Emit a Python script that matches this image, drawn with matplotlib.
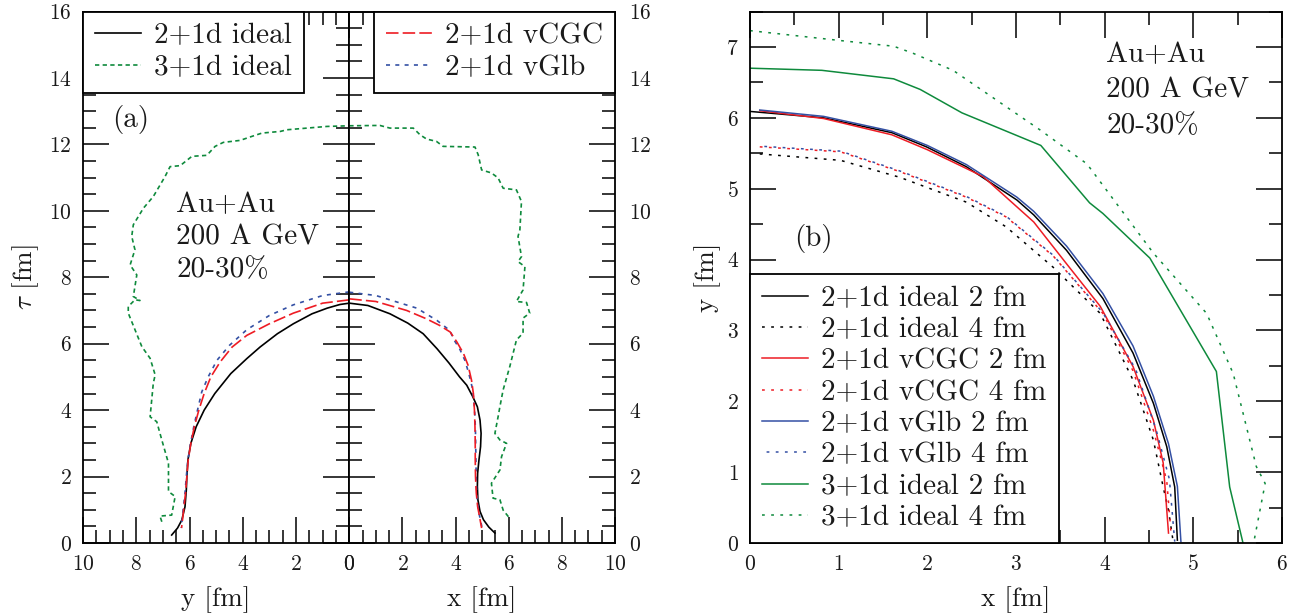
import numpy as np
import matplotlib
matplotlib.use("Agg")
import matplotlib.pyplot as plt
from matplotlib.ticker import MultipleLocator

plt.rcParams['font.family'] = ['cmr10', 'DejaVu Serif']
plt.rcParams['mathtext.fontset'] = 'cm'
plt.rcParams['axes.formatter.use_mathtext'] = True
plt.rcParams['lines.scale_dashes'] = False

# ---------------- panel (a): freeze-out surfaces tau vs y (left) and x (right)
# 2+1d ideal
ideal_y = [6.67, 6.45, 6.29, 6.17, 6.12, 6.10, 6.06, 5.95, 5.75, 5.45, 5.05, 4.45, 3.85, 3.35, 2.70, 2.10, 1.40, 0.83, 0.35, 0.0]
ideal_y_tau = [0.24, 0.45, 0.69, 1.09, 1.60, 2.00, 2.50, 3.00, 3.50, 4.00, 4.50, 5.10, 5.55, 5.90, 6.30, 6.60, 6.90, 7.07, 7.18, 7.22]
ideal_x = [0.0, 0.70, 1.53, 2.20, 2.78, 3.30, 3.75, 4.15, 4.42, 4.65, 4.82, 4.92, 4.96, 4.94, 4.88, 4.83, 4.82, 4.84, 4.92, 5.05, 5.25, 5.48]
ideal_x_tau = [7.22, 7.15, 6.90, 6.62, 6.30, 5.85, 5.42, 5.00, 4.75, 4.40, 4.10, 3.70, 3.30, 2.90, 2.50, 2.10, 1.70, 1.30, 0.95, 0.70, 0.48, 0.30]

# 2+1d vCGC
vcgc_y = [0.0, 1.0, 2.10, 3.00, 3.85, 4.40, 4.85, 5.20, 5.45, 5.65, 5.82, 5.95, 6.05, 6.10, 6.15, 6.22, 6.30]
vcgc_y_tau = [7.32, 7.22, 6.92, 6.60, 6.25, 5.90, 5.45, 5.00, 4.50, 4.00, 3.50, 3.00, 2.50, 2.00, 1.50, 1.00, 0.45]
vcgc_x = [0.0, 1.0, 2.16, 2.90, 3.40, 3.80, 4.05, 4.30, 4.47, 4.60, 4.67, 4.71, 4.73, 4.74, 4.74, 4.75, 4.78, 4.83, 4.90, 4.98]
vcgc_x_tau = [7.35, 7.27, 7.00, 6.75, 6.55, 6.35, 6.05, 5.70, 5.35, 4.90, 4.50, 4.00, 3.50, 3.00, 2.50, 2.00, 1.50, 1.10, 0.80, 0.45]

# 2+1d vGlb
vglb_y = [0.0, 1.0, 2.10, 3.00, 3.85, 4.50, 4.97, 5.30, 5.54, 5.70, 5.84, 5.96, 6.06, 6.12, 6.17, 6.24, 6.31]
vglb_y_tau = [7.56, 7.45, 7.17, 6.85, 6.42, 5.95, 5.50, 5.00, 4.55, 4.00, 3.50, 3.00, 2.50, 2.00, 1.50, 1.00, 0.45]
vglb_x = [0.0, 1.0, 2.54, 3.30, 3.78, 3.95, 4.15, 4.35, 4.50, 4.62, 4.69, 4.73, 4.75, 4.76, 4.77, 4.78, 4.81, 4.88, 5.00]
vglb_x_tau = [7.55, 7.45, 7.07, 6.70, 6.40, 6.10, 5.85, 5.50, 5.10, 4.70, 4.30, 3.80, 3.30, 2.80, 2.30, 1.80, 1.30, 0.90, 0.45]

# 3+1d ideal
ideal3d_y = [7.04, 7.11, 6.67, 6.54, 6.79, 6.79, 7.04, 7.23, 7.48, 7.36, 7.29, 7.48, 7.79, 8.30, 8.30, 8.05, 7.86, 8.11, 7.98,
             8.23, 8.05, 8.17, 8.11, 7.73, 7.36, 6.92, 6.73, 6.35, 5.91, 5.35, 5.04, 4.73, 4.10, 3.66, 3.28, 2.59, 2.34,
             1.59, 0.84, 0.0]
ideal3d_y_tau = [0.64, 0.81, 0.84, 1.40, 1.55, 2.40, 3.10, 3.65, 3.80, 4.81, 5.06, 5.56, 5.91, 6.92, 7.12, 7.32, 7.30, 7.42,
                 8.07, 8.37, 8.83, 9.23, 9.58, 10.08, 10.43, 11.03, 11.33, 11.36, 11.64, 11.67, 11.94, 12.06, 12.12,
                 12.24, 12.34, 12.39, 12.44, 12.49, 12.54, 12.56]
ideal3d_x = [0.0, 1.15, 1.53, 2.41, 2.66, 2.91, 3.28, 3.53, 4.73, 4.85, 4.98, 5.35, 5.60, 5.79, 6.29, 6.48, 6.42, 6.35,
             6.48, 6.35, 6.61, 6.54, 6.29, 6.67, 6.79, 6.54, 6.54, 6.29, 6.04, 5.79, 5.67, 5.60, 5.48, 5.67, 5.92,
             5.73, 5.67, 5.35, 5.41, 5.67, 5.79, 6.04]
ideal3d_x_tau = [12.56, 12.57, 12.49, 12.49, 12.29, 12.16, 12.09, 11.94, 11.92, 11.69, 11.23, 11.14, 10.99, 10.68,
                 10.63, 10.28, 9.43, 9.23, 8.62, 8.47, 8.32, 7.62, 7.27, 7.24, 6.92, 6.77, 6.32, 6.11, 5.31, 4.61,
                 4.11, 3.80, 3.30, 3.10, 3.00, 2.60, 2.20, 1.80, 1.35, 1.30, 0.99, 0.74]

# ---------------- panel (b): isotherms in the transverse plane at tau = 2 and 4 fm
b_ideal2_x = [0.0, 0.83, 1.60, 1.99, 2.44, 3.01, 3.20, 3.57, 3.98, 4.32, 4.55, 4.70, 4.79, 4.82]
b_ideal2_y = [6.09, 6.00, 5.79, 5.59, 5.31, 4.84, 4.63, 4.13, 3.45, 2.68, 1.97, 1.36, 0.79, 0.04]
b_ideal4_x = [0.11, 1.02, 1.69, 2.44, 2.89, 3.42, 3.95, 4.32, 4.55, 4.66, 4.72, 4.77]
b_ideal4_y = [5.49, 5.40, 5.16, 4.81, 4.46, 3.89, 3.24, 2.30, 1.45, 0.79, 0.46, 0.04]
b_vcgc2_x = [0.11, 0.83, 1.60, 2.00, 2.63, 3.20, 3.57, 3.95, 4.32, 4.55, 4.66, 4.72]
b_vcgc2_y = [6.10, 5.99, 5.76, 5.55, 5.17, 4.53, 3.94, 3.34, 2.49, 1.73, 1.13, 0.14]
b_vcgc4_x = [0.11, 1.02, 1.69, 2.44, 2.89, 3.42, 3.98, 4.32, 4.55, 4.70, 4.75]
b_vcgc4_y = [5.59, 5.52, 5.24, 4.88, 4.60, 4.05, 3.24, 2.43, 1.59, 0.88, 0.12]
b_vglb2_x = [0.11, 0.83, 1.60, 2.00, 2.44, 3.01, 3.20, 3.57, 3.98, 4.32, 4.55, 4.72, 4.82, 4.86]
b_vglb2_y = [6.11, 6.02, 5.81, 5.61, 5.34, 4.88, 4.68, 4.19, 3.52, 2.78, 2.07, 1.40, 0.80, 0.02]
b_vglb4_x = [0.11, 1.02, 1.69, 2.44, 2.89, 3.42, 3.98, 4.35, 4.58, 4.73, 4.79]
b_vglb4_y = [5.60, 5.53, 5.25, 4.89, 4.61, 4.06, 3.25, 2.45, 1.60, 0.90, 0.02]
b_3d2_x = [0.0, 0.81, 1.62, 1.92, 2.39, 3.28, 3.83, 3.98, 4.51, 5.26, 5.41, 5.56]
b_3d2_y = [6.70, 6.67, 6.55, 6.40, 6.07, 5.61, 4.80, 4.65, 4.02, 2.42, 0.79, 0.0]
b_3d4_x = [0.0, 1.02, 1.62, 1.84, 2.29, 3.27, 3.80, 4.55, 5.15, 5.45, 5.71, 5.81, 5.68]
b_3d4_y = [7.23, 7.09, 7.01, 6.91, 6.67, 5.83, 5.35, 4.09, 3.24, 2.39, 1.08, 0.84, 0.0]

a_labels = ['2+1d ideal', '3+1d ideal', '2+1d vCGC', '2+1d vGlb']
b_labels = ['2+1d ideal 2 fm', '2+1d ideal 4 fm', '2+1d vCGC 2 fm', '2+1d vCGC 4 fm',
            '2+1d vGlb 2 fm', '2+1d vGlb 4 fm', '3+1d ideal 2 fm', '3+1d ideal 4 fm']
info_text = ['Au+Au', '200 A GeV', '20-30%']

BLACK = '#000000'
RED = '#ee1c24'
BLUE = '#3450a4'
GREEN = '#0e8a3c'
TXT = '#1a1a1a'

FS_TEXT = 21
FS_TICK = 15.5
FS_LABEL = 19.5

fig = plt.figure(figsize=(13.01, 6.15), dpi=100)

W, H = 1301.0, 615.0
bot = 1 - 543 / H
top = 1 - 11.5 / H
axL = fig.add_axes([83 / W, bot, (349.3 - 83) / W, top - bot])
axR = fig.add_axes([349.3 / W, bot, (615 - 349.3) / W, top - bot])
axB = fig.add_axes([750 / W, bot, (1282 - 750) / W, top - bot])


def style(ax, xmaj, xmin, ymaj, ymin):
    ax.xaxis.set_major_locator(MultipleLocator(xmaj))
    ax.xaxis.set_minor_locator(MultipleLocator(xmin))
    ax.yaxis.set_major_locator(MultipleLocator(ymaj))
    ax.yaxis.set_minor_locator(MultipleLocator(ymin))
    ax.tick_params(which='both', direction='in', top=True, bottom=True, left=True, right=True,
                   width=1.1, color='black', labelsize=FS_TICK, labelcolor=TXT)
    ax.tick_params(which='major', length=19)
    ax.tick_params(which='minor', length=9.5)
    ax.tick_params(axis='x', pad=8)
    ax.tick_params(axis='y', pad=8)
    for s in ax.spines.values():
        s.set_linewidth(1.3)


LW_A = 1.2
dash_red = (0, (9.0, 3.0))
dot_blue = (0, (2.9, 3.8))
dot_green = (0, (3.1, 2.4))

for ax in (axL, axR):
    style(ax, 2, 0.5, 2, 0.5)
    ax.set_ylim(0, 16)

axL.set_xlim(10, 0)
axR.set_xlim(0, 10)
axL.tick_params(labelleft=True, labelright=False)
axR.tick_params(labelleft=False, labelright=True)
axR.tick_params(axis='y', pad=10)

# left half (y direction)
hA1, = axL.plot(ideal_y, ideal_y_tau, color=BLACK, lw=LW_A)
hA2, = axL.plot(ideal3d_y, ideal3d_y_tau, color=GREEN, lw=LW_A, linestyle=dot_green)
axL.plot(vglb_y, vglb_y_tau, color=BLUE, lw=LW_A, linestyle=dot_blue)
axL.plot(vcgc_y, vcgc_y_tau, color=RED, lw=LW_A, linestyle=dash_red)
# right half (x direction)
axR.plot(ideal_x, ideal_x_tau, color=BLACK, lw=LW_A)
axR.plot(ideal3d_x, ideal3d_x_tau, color=GREEN, lw=LW_A, linestyle=dot_green)
hA4, = axR.plot(vglb_x, vglb_x_tau, color=BLUE, lw=LW_A, linestyle=dot_blue)
hA3, = axR.plot(vcgc_x, vcgc_x_tau, color=RED, lw=LW_A, linestyle=dash_red)

leg_kw = dict(fontsize=FS_TEXT, fancybox=False, edgecolor='black', framealpha=1.0,
              borderaxespad=0.0, handlelength=1.6, handletextpad=0.45,
              labelspacing=0.17, borderpad=0.4, labelcolor=TXT)
legL = axL.legend([hA1, hA2], a_labels[:2], loc='upper left', **leg_kw)
legR = axR.legend([hA3, hA4], a_labels[2:], loc='upper right', **leg_kw)
for lg in (legL, legR):
    lg.get_frame().set_linewidth(1.3)

axL.text(8.9, 12.75, '(a)', fontsize=FS_TEXT, va='center', ha='left', color=TXT)
for i, line in enumerate(info_text):
    axL.text(6.5, 9.97 - i * 0.98, line, fontsize=FS_TEXT, va='baseline', ha='left', color=TXT)

axL.set_xlabel('y [fm]', fontsize=FS_LABEL, labelpad=9, color=TXT)
axR.set_xlabel('x [fm]', fontsize=FS_LABEL, labelpad=9, color=TXT)
axL.set_ylabel(r'$\tau$ [fm]', fontsize=FS_LABEL, labelpad=6, color=TXT)

# ---------------- panel (b)
style(axB, 1, 0.5, 1, 0.5)
axB.set_xlim(0, 6)
axB.set_ylim(0, 7.5)

LW_B = 1.1
dot_b = (0, (2.0, 4.6))
hb = []
hb += axB.plot(b_ideal2_x, b_ideal2_y, color=BLACK, lw=LW_B)
hb += axB.plot(b_ideal4_x, b_ideal4_y, color=BLACK, lw=LW_B, linestyle=dot_b)
hb += axB.plot(b_vcgc2_x, b_vcgc2_y, color=RED, lw=LW_B)
hb += axB.plot(b_vcgc4_x, b_vcgc4_y, color=RED, lw=LW_B, linestyle=dot_b)
hb += axB.plot(b_vglb2_x, b_vglb2_y, color=BLUE, lw=LW_B)
hb += axB.plot(b_vglb4_x, b_vglb4_y, color=BLUE, lw=LW_B, linestyle=(3.3, (2.0, 4.6)))
hb += axB.plot(b_3d2_x, b_3d2_y, color=GREEN, lw=LW_B)
hb += axB.plot(b_3d4_x, b_3d4_y, color=GREEN, lw=LW_B, linestyle=dot_b)

legB = axB.legend(hb, b_labels, loc='lower left', **leg_kw)
legB.get_frame().set_linewidth(1.3)

axB.text(0.5, 4.3, '(b)', fontsize=FS_TEXT, va='center', ha='left', color=TXT)
for i, line in enumerate(info_text):
    axB.text(4.02, 6.79 - i * 0.5, line, fontsize=FS_TEXT, va='baseline', ha='left', color=TXT)

axB.set_xlabel('x [fm]', fontsize=FS_LABEL, labelpad=9, color=TXT)
axB.set_ylabel('y [fm]', fontsize=FS_LABEL, labelpad=4, color=TXT)

fig.savefig('out.png', dpi=100)
